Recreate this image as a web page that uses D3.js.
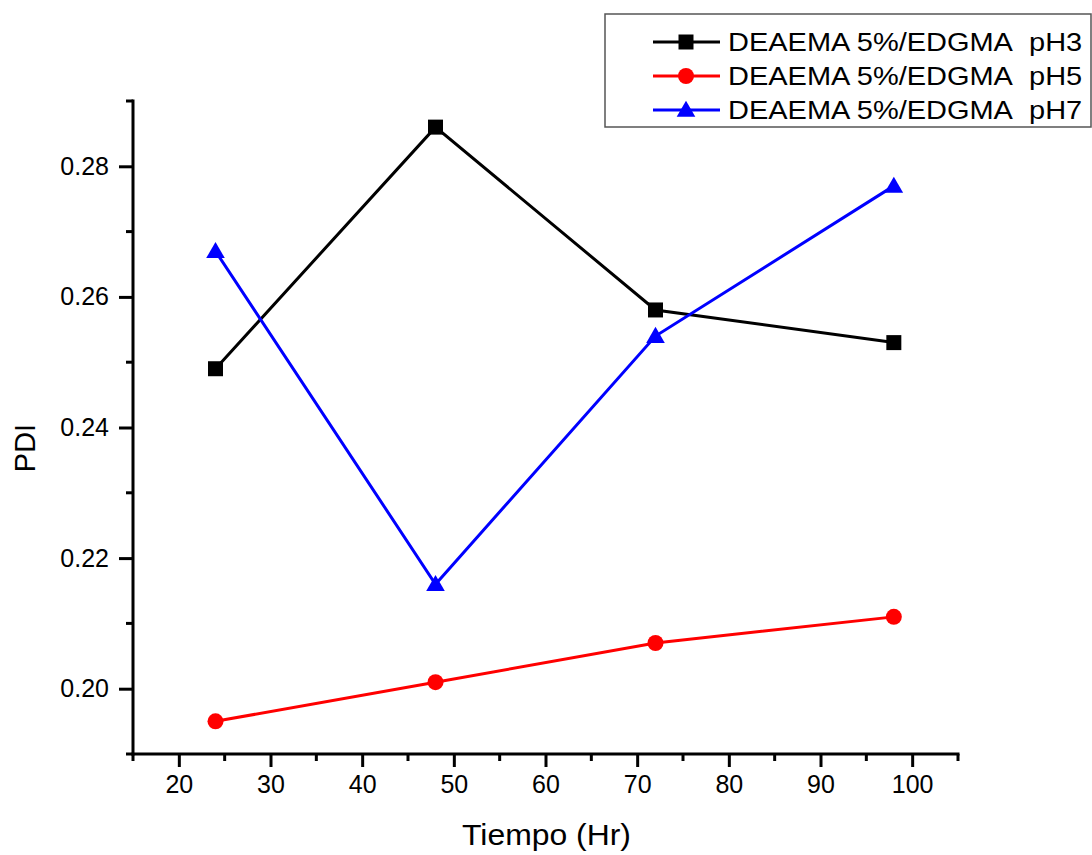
<!DOCTYPE html>
<html>
<head>
<meta charset="utf-8">
<script src="https://cdn.jsdelivr.net/npm/d3@7"></script>
<style>
    body { margin: 0; background: #fff; }
    text { font-family: "Liberation Sans", Arial, sans-serif; fill: #000; }
</style>
</head>
<body>
<svg id="chart" width="1092" height="855"></svg>
<script>
// data
var tiempo = [24, 48, 72, 98];
var pdi_pH3 = [0.249, 0.286, 0.258, 0.253];
var pdi_pH5 = [0.195, 0.201, 0.207, 0.211];
var pdi_pH7 = [0.267, 0.216, 0.254, 0.277];
var seriesNames = ["DEAEMA 5%/EDGMA\u00a0 pH3", "DEAEMA 5%/EDGMA\u00a0 pH5", "DEAEMA 5%/EDGMA\u00a0 pH7"];
var xTicks = [20, 30, 40, 50, 60, 70, 80, 90, 100];
var xMinor = [15, 25, 35, 45, 55, 65, 75, 85, 95, 105];
var yTicks = [0.20, 0.22, 0.24, 0.26, 0.28];
var yMinor = [0.19, 0.21, 0.23, 0.25, 0.27, 0.29];

var svg = d3.select("#chart"),
    margin = {left: 133, right: 134, top: 101, bottom: 101},
    width = +svg.attr("width") - margin.left - margin.right,
    height = +svg.attr("height") - margin.top - margin.bottom;

var x = d3.scaleLinear().domain([15, 105]).range([margin.left, margin.left + width]);
var y = d3.scaleLinear().domain([0.19, 0.29]).range([margin.top + height, margin.top]);

var series = [
    {name: seriesNames[0], values: pdi_pH3, color: "#000000", shape: "square"},
    {name: seriesNames[1], values: pdi_pH5, color: "#ff0000", shape: "circle"},
    {name: seriesNames[2], values: pdi_pH7, color: "#0000ff", shape: "triangle"}
];

var symbols = {
    square: d3.symbol().type(d3.symbolSquare).size(225),
    circle: d3.symbol().type(d3.symbolCircle).size(201),
    triangle: d3.symbol().type(d3.symbolTriangle).size(150)
};

// axes (left and bottom only)
var xAxis = svg.append("g").attr("transform", "translate(0," + (margin.top + height) + ")");
xAxis.call(d3.axisBottom(x).tickValues(xTicks).tickSize(13).tickPadding(8).tickFormat(d3.format("d")));
xAxis.append("g").selectAll("line").data(xMinor).enter().append("line")
    .attr("x1", d => x(d)).attr("x2", d => x(d)).attr("y1", 0).attr("y2", 7);

var yAxis = svg.append("g").attr("transform", "translate(" + margin.left + ",0)");
yAxis.call(d3.axisLeft(y).tickValues(yTicks).tickSize(14).tickPadding(10).tickFormat(d3.format(".2f")));
yAxis.append("g").selectAll("line").data(yMinor).enter().append("line")
    .attr("y1", d => y(d)).attr("y2", d => y(d)).attr("x1", 0).attr("x2", -7);

svg.selectAll(".domain").remove();
svg.append("line")
    .attr("x1", margin.left - 1.5).attr("x2", margin.left + width + 1.5)
    .attr("y1", margin.top + height).attr("y2", margin.top + height)
    .style("stroke", "#000").style("stroke-width", 3);
svg.append("line")
    .attr("x1", margin.left).attr("x2", margin.left)
    .attr("y1", margin.top - 1.5).attr("y2", margin.top + height + 1.5)
    .style("stroke", "#000").style("stroke-width", 3);

svg.selectAll(".tick line").attr("stroke", "#000").attr("stroke-width", 3);
xAxis.selectAll("g line").attr("stroke", "#000").attr("stroke-width", 3);
yAxis.selectAll("g line").attr("stroke", "#000").attr("stroke-width", 3);
svg.selectAll(".tick text")
    .attr("font-size", 25)
    .attr("font-family", "Liberation Sans, Arial, sans-serif");

// axis titles
svg.append("text")
    .attr("transform", "translate(" + (margin.left + width / 2 + 1) + ",845) scale(1.1,1)")
    .attr("text-anchor", "middle")
    .style("font-size", "29px")
    .text("Tiempo (Hr)");

svg.append("text")
    .attr("transform", "translate(35,448) rotate(-90)")
    .attr("text-anchor", "middle")
    .style("font-size", "29px")
    .text("PDI");

// lines + markers
var line = d3.line().x((d, i) => x(tiempo[i])).y(d => y(d));

series.forEach(function (s) {
    svg.append("path")
        .attr("d", line(s.values))
        .attr("fill", "none")
        .attr("stroke", s.color)
        .attr("stroke-width", 3);
    svg.append("g").selectAll("path").data(s.values).enter().append("path")
        .attr("d", symbols[s.shape])
        .attr("transform", (d, i) => "translate(" + x(tiempo[i]) + "," + (y(d) + (s.shape === "triangle" ? 1.5 : 0)) + ")")
        .attr("fill", s.color);
});

// legend
var legend = svg.append("g");
legend.append("rect")
    .attr("x", 605).attr("y", 14)
    .attr("width", 486).attr("height", 113)
    .attr("fill", "#fff")
    .attr("stroke", "#555")
    .attr("stroke-width", 1.5);

series.forEach(function (s, i) {
    var ly = 42 + i * 34;
    legend.append("line")
        .attr("x1", 653).attr("x2", 720).attr("y1", ly).attr("y2", ly)
        .attr("stroke", s.color).attr("stroke-width", 3);
    legend.append("path")
        .attr("d", symbols[s.shape])
        .attr("transform", "translate(686," + (ly + (s.shape === "triangle" ? 1.5 : 0)) + ")")
        .attr("fill", s.color);
    legend.append("text")
        .attr("transform", "translate(728," + (ly + 9) + ") scale(1.115,1)")
        .style("font-size", "26px")
        .text(s.name);
});
</script>
</body>
</html>
